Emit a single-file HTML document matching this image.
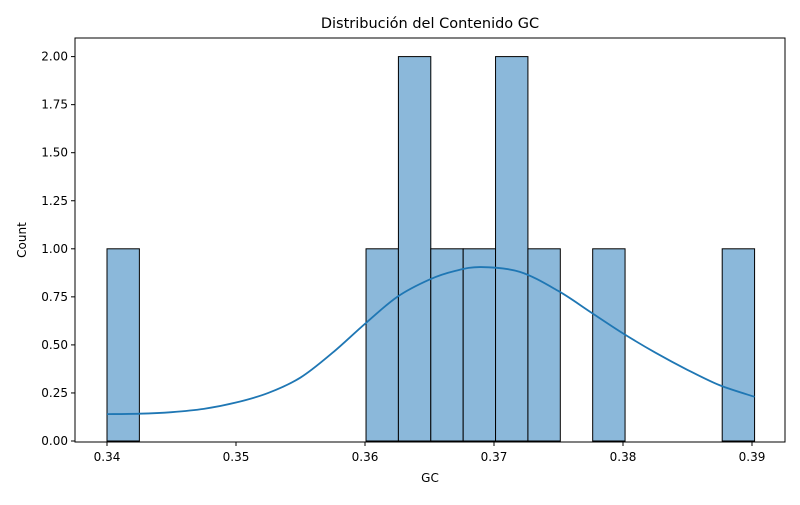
<!DOCTYPE html>
<html><head><meta charset="utf-8"><style>
body{margin:0;background:#fff;font-family:"Liberation Sans","DejaVu Sans",sans-serif}
</style></head><body>
<svg width="800" height="500" xmlns="http://www.w3.org/2000/svg" font-family="DejaVu Sans, Liberation Sans, sans-serif">
<g id="plot"></g>
</svg>
<script>
const binStart = 0.34;
const binWidth = 0.00251;
const counts = [1,0,0,0,0,0,0,0,1,2,1,1,2,1,0,1,0,0,0,1];
const kdeX = [0.34,0.3425,0.345,0.3475,0.35,0.3525,0.355,0.3575,0.36,0.3625,0.365,0.367,0.369,0.372,0.375,0.3775,0.38,0.3825,0.385,0.3875,0.3902];
const kdeY = [0.14,0.142,0.15,0.167,0.2,0.25,0.33,0.46,0.61,0.75,0.84,0.885,0.905,0.88,0.78,0.67,0.56,0.46,0.37,0.29,0.23];
const xTicks = [0.34,0.35,0.36,0.37,0.38,0.39];
const xTickLabels = ["0.34","0.35","0.36","0.37","0.38","0.39"];
const yTicks = [0,0.25,0.5,0.75,1,1.25,1.5,1.75,2];
const yTickLabels = ["0.00","0.25","0.50","0.75","1.00","1.25","1.50","1.75","2.00"];

const L=75,R=785,T=38,B=442;
const xs = v => 107 + (v-0.34)*12900;
const ys = v => 441 - v*192.2;
const NS="http://www.w3.org/2000/svg";
const g=document.getElementById('plot');
function mk(tag,attrs){const e=document.createElementNS(NS,tag);for(const k in attrs)e.setAttribute(k,attrs[k]);g.appendChild(e);return e;}

counts.forEach((c,i)=>{
  if(!c)return;
  const x0=xs(binStart+i*binWidth), x1=xs(binStart+(i+1)*binWidth);
  const r=mk('rect',{x:x0,y:ys(c),width:x1-x0,height:ys(0)-ys(c),fill:'#8bb8da',stroke:'#000','stroke-width':1});
  
  
});

const P=kdeX.map((x,i)=>[xs(x),ys(kdeY[i])]);
let d=`M${P[0][0]},${P[0][1]}`;
for(let i=0;i<P.length-1;i++){
  const p0=P[Math.max(0,i-1)],p1=P[i],p2=P[i+1],p3=P[Math.min(P.length-1,i+2)];
  const c1=[p1[0]+(p2[0]-p0[0])/6,p1[1]+(p2[1]-p0[1])/6];
  const c2=[p2[0]-(p3[0]-p1[0])/6,p2[1]-(p3[1]-p1[1])/6];
  d+=` C${c1[0]},${c1[1]} ${c2[0]},${c2[1]} ${p2[0]},${p2[1]}`;
}
const kde=mk('path',{d:d,fill:'none',stroke:'#1f77b4','stroke-width':1.8});



const fr=mk('rect',{x:L,y:T,width:R-L,height:B-T,fill:'none',stroke:'#000','stroke-width':1});



xTicks.forEach((v,i)=>{
  mk('line',{x1:xs(v),x2:xs(v),y1:B,y2:B+4,stroke:'#000'});
  const t=mk('text',{x:xs(v),y:B+19,'text-anchor':'middle','font-size':12});
  t.textContent=xTickLabels[i];
  
  
});
yTicks.forEach((v,i)=>{
  mk('line',{x1:L-4,x2:L,y1:ys(v),y2:ys(v),stroke:'#000'});
  const t=mk('text',{x:L-7,y:ys(v)+4,'text-anchor':'end','font-size':12});
  t.textContent=yTickLabels[i];
  
  
});
const title=mk('text',{x:430,y:28,'text-anchor':'middle','font-size':14.5});
title.textContent='Distribución del Contenido GC';


const xl=mk('text',{x:430,y:482,'text-anchor':'middle','font-size':12});
xl.textContent='GC';


const yl=mk('text',{x:26,y:240,'text-anchor':'middle','font-size':12,transform:'rotate(-90 26 240)'});
yl.textContent='Count';


</script>
</body></html>
